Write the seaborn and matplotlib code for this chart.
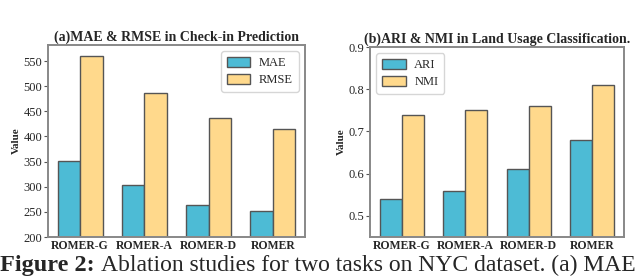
import numpy as np
import pandas as pd
import matplotlib
matplotlib.use("Agg")
import matplotlib.pyplot as plt
import seaborn as sns

# Data
models = ["ROMER-G", "ROMER-A", "ROMER-D", "ROMER"]
mae = [352, 303, 263, 252]
rmse = [560, 487, 436, 414]
ari = [0.54, 0.56, 0.61, 0.68]
nmi = [0.74, 0.75, 0.76, 0.81]

COLOR_BLUE = "#4DBBD5"
COLOR_YELLOW = "#FFD98C"
EDGE = "#555555"

sns.set_style("white")
plt.rcParams["font.family"] = ["Liberation Serif", "DejaVu Serif"]

df_a = pd.DataFrame({
    "model": models * 2,
    "metric": ["MAE"] * 4 + ["RMSE"] * 4,
    "value": mae + rmse,
})
df_b = pd.DataFrame({
    "model": models * 2,
    "metric": ["ARI"] * 4 + ["NMI"] * 4,
    "value": ari + nmi,
})

fig = plt.figure(figsize=(6.4, 2.79), dpi=100)
ax1 = fig.add_axes([48 / 640, 1 - 237 / 279, 257 / 640, 192 / 279])
ax2 = fig.add_axes([370 / 640, 1 - 237 / 279, 254 / 640, 190 / 279])


def draw(ax, df, ylim, title, legend_loc):
    sns.barplot(data=df, x="model", y="value", hue="metric", ax=ax,
                palette=[COLOR_BLUE, COLOR_YELLOW], width=0.7,
                edgecolor=EDGE, linewidth=1.0, saturation=1)
    ax.set_ylim(*ylim)
    ax.set_xlim(-0.5, 3.5)
    ax.set_xlabel("")
    ax.set_ylabel("Value", fontsize=8, fontweight="bold", labelpad=2)
    ax.set_title(title, fontsize=10, fontweight="bold", pad=3)
    for lab in ax.get_xticklabels():
        lab.set_fontweight("bold")
    ax.tick_params(axis="x", labelsize=8.5, length=0, pad=2)
    ax.tick_params(axis="y", labelsize=9, length=3, width=0.8, pad=1,
                   left=True, color="#555555")
    for s in ax.spines.values():
        s.set_color("#888888")
        s.set_linewidth(1.4)
    leg = ax.legend(loc=legend_loc, fontsize=9, frameon=True,
                    handlelength=1.9, handleheight=0.9, borderpad=0.45,
                    labelspacing=0.35, handletextpad=0.7)
    leg.get_frame().set_edgecolor("#cccccc")


draw(ax1, df_a, (200, 582), "(a)MAE & RMSE in Check-in Prediction", "upper right")
ax1.set_yticks([200, 250, 300, 350, 400, 450, 500, 550])

draw(ax2, df_b, (0.45, 0.9), "(b)ARI & NMI in Land Usage Classification.", "upper left")
ax2.set_yticks([0.5, 0.6, 0.7, 0.8, 0.9])
ax2.set_yticklabels(["0.5", "0.6", "0.7", "0.8", "0.9"])

# caption under the panels
fig.text(0.0, 8 / 279, "Figure 2:", fontsize=17.5, fontweight="bold",
         va="baseline", family=["Liberation Serif", "DejaVu Serif"])
fig.text(101 / 640, 8 / 279, "Ablation studies for two tasks on NYC dataset. (a) MAE",
         fontsize=17, va="baseline", family=["Liberation Serif", "DejaVu Serif"])

fig.savefig("out.png", dpi=100)
